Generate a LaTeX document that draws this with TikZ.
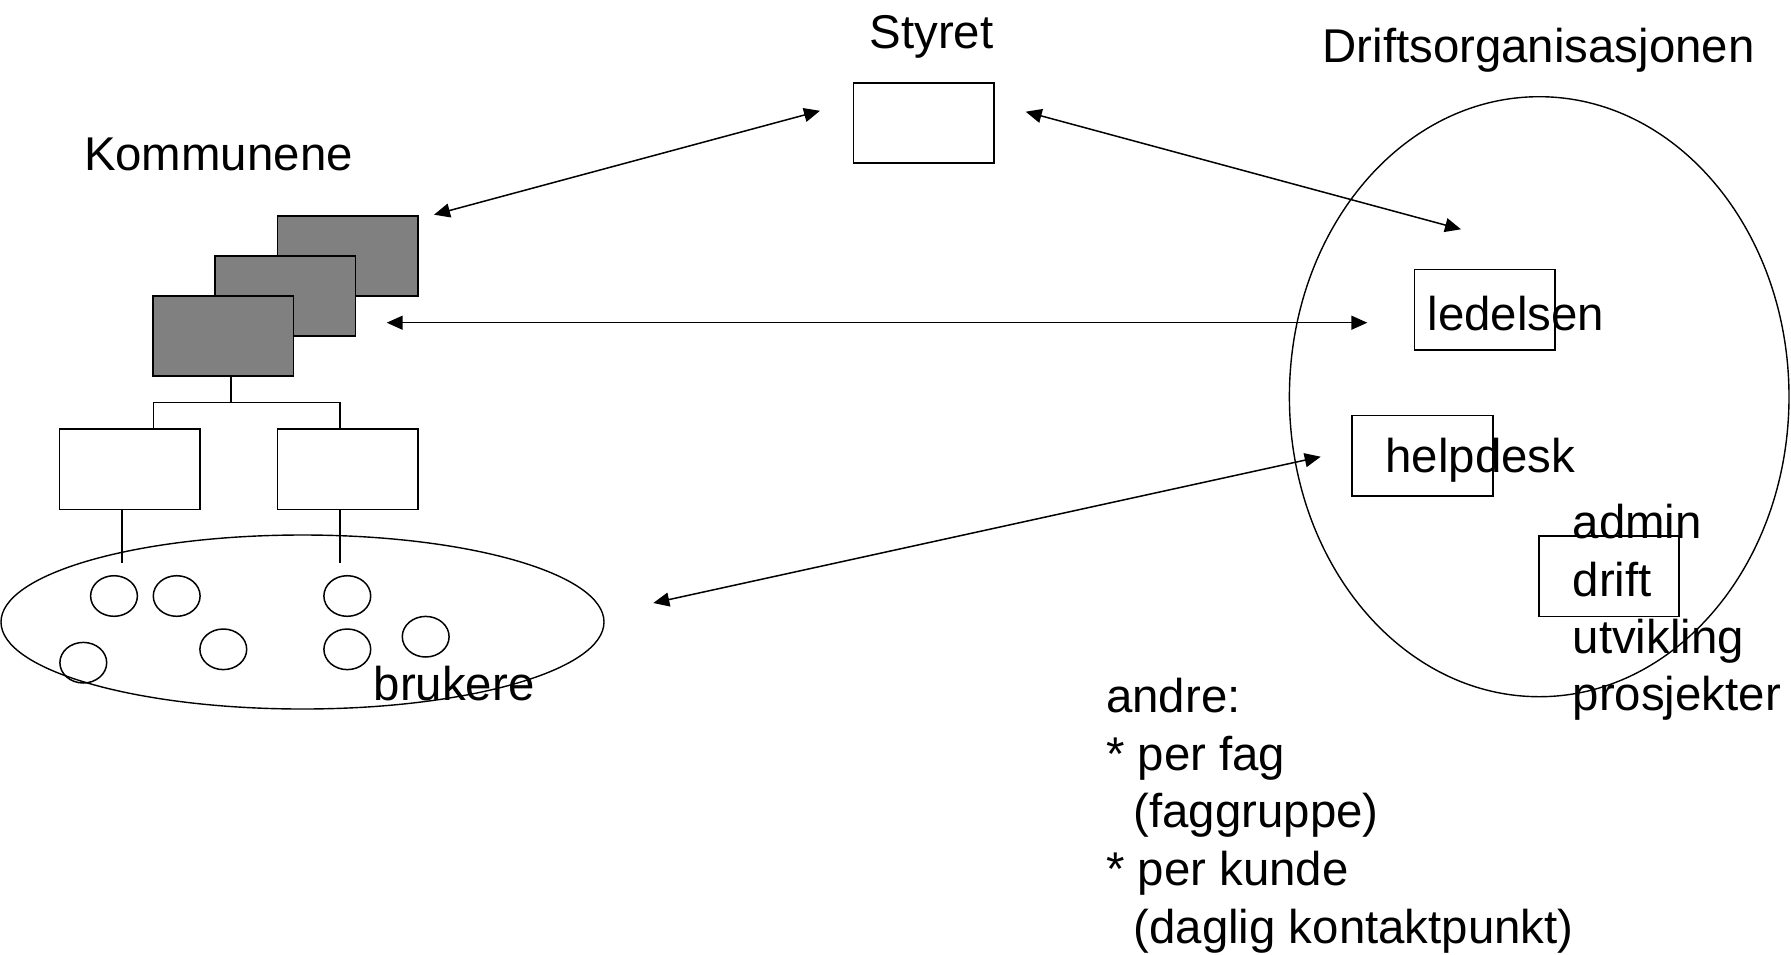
\documentclass[tikz,border=0pt]{standalone}
\usepackage{fontspec}
\setmainfont{Liberation Sans}
\usetikzlibrary{arrows.meta,shapes.geometric}
\definecolor{boxgray}{HTML}{808080}
\begin{document}
\begin{tikzpicture}[x=1pt,y=-1pt,
  lbl/.style={anchor=base west,inner sep=0pt,font=\fontsize{47.4}{57.6}\selectfont},
  gbox/.style={draw,fill=boxgray,line width=1.8pt,minimum width=140.5pt,minimum height=80.5pt,inner sep=0pt},
  wbox/.style={draw,line width=1.6pt,minimum width=140.5pt,minimum height=80.5pt,inner sep=0pt},
  user/.style={draw,ellipse,line width=1.5pt,minimum width=46.8pt,minimum height=40.6pt,inner sep=0pt},
  link/.style={line width=1.6pt},
  biarrow/.style={line width=1.5pt,{Triangle[length=16pt,width=14pt]}-{Triangle[length=16pt,width=14pt]}},
]
\useasboundingbox (0,0) rectangle (1791,954);

% Kommunene stack
\node[gbox] (k3) at (347.8,256) {};
\node[gbox] (k2) at (285.2,296) {};
\node[gbox] (k1) at (223.2,336) {};
\node[wbox] (w1) at (129.7,469.3) {};
\node[wbox] (w2) at (347.7,469.3) {};
\draw[link] (230.7,0 |- k1.south) -- (230.7,402.5);
\draw[link] (153.3,0 |- w1.north) |- (340,402.5) -- (340,0 |- w2.north);
\draw[link] (122,0 |- w1.south) -- (122,563.3);
\draw[link] (340,0 |- w2.south) -- (340,563.3);

% brukere
\node[draw,ellipse,line width=1.4pt,minimum width=603pt,minimum height=174pt,inner sep=0pt] (users) at (302.5,622) {};
\node[user] (u1) at (114,596) {};
\node[user] (u2) at (176.7,596) {};
\node[user] (u3) at (347.3,596) {};
\node[user] (u4) at (83.3,662.7) {};
\node[user] (u5) at (223.3,649.3) {};
\node[user] (u6) at (347.3,649.3) {};
\node[user] (u7) at (425.7,636.7) {};

% Styret
\node[wbox] (styret) at (923.7,123) {};

% Driftsorganisasjonen
\node[draw,ellipse,line width=1.4pt,minimum width=499.6pt,minimum height=600pt,inner sep=0pt] (org) at (1539.2,396.7) {};
\node[wbox] (led) at (1484.7,309.7) {};
\node[wbox] (help) at (1422.5,455.9) {};
\node[wbox] (drift) at (1609,576.3) {};

% labels
\node[lbl] (tStyret) at (869.5,48.3) {Styret};
\node[lbl] (tDrift) at (1322.3,62.3) {Driftsorganisasjonen};
\node[lbl] (tKomm) at (83.8,170.7) {Kommunene};
\node[lbl] (tBruk) at (373.5,700) {brukere};
\node[lbl] (tLed) at (1427.5,330.3) {ledelsen};
\node[lbl] (tHelp) at (1385.3,472.3) {helpdesk};
\node[lbl] (tAdmin) at (1572.5,538) {admin};
\node[lbl] (tDriftL) at (1572.5,596) {drift};
\node[lbl] (tUtv) at (1572.5,653.3) {utvikling};
\node[lbl] (tProsj) at (1572.5,710.7) {prosjekter};
\node[lbl] (tAndre) at (1106,712.7) {andre:};
\node[lbl] (tFag) at (1106,770.2) {* per fag};
\node[lbl] (tFaggr) at (1133.4,827.8) {(faggruppe)};
\node[lbl] (tKunde) at (1106,885.4) {* per kunde};
\node[lbl] (tDaglig) at (1133.4,943) {(daglig kontaktpunkt)};

% arrows
\coordinate (a1a) at (434,214.7);
\coordinate (a1b) at (820,110.8);
\coordinate (a2a) at (1025.7,111.7);
\coordinate (a2b) at (1461,229.3);
\coordinate (a3a) at (386.7,322.7);
\coordinate (a3b) at (1367.3,322.7);
\coordinate (a4a) at (1320.7,456.7);
\coordinate (a4b) at (653.3,603);
\draw[biarrow] (a1a) -- (a1b);
\draw[biarrow] (a2a) -- (a2b);
\draw[biarrow] (a3a) -- (a3b);
\draw[biarrow] (a4a) -- (a4b);
\end{tikzpicture}
\end{document}
